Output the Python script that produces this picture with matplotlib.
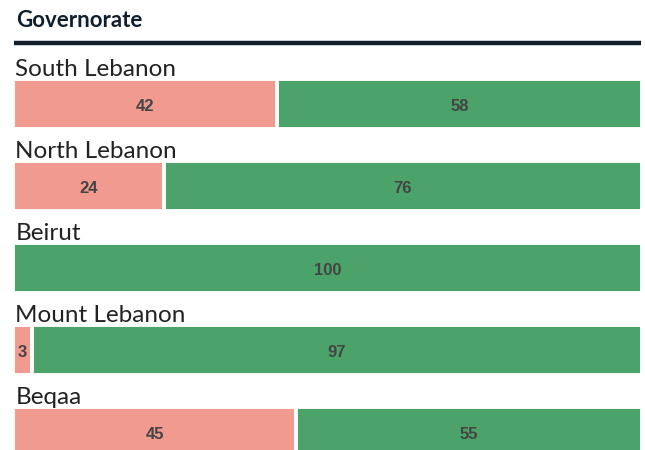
import matplotlib.pyplot as plt

# data
regions = ["South Lebanon", "North Lebanon", "Beirut", "Mount Lebanon", "Beqaa"]
no_vals = [42, 24, 0, 3, 45]
yes_vals = [58, 76, 100, 97, 55]

pink = "#f09a90"
green = "#4ba369"
navy = "#0f1f2e"

lw = 2.8  # white gap between segments
pad = lw * 100 / 72 / 2  # px lost on outer edges

fig = plt.figure(figsize=(6.45, 4.5), dpi=100)
ax = fig.add_axes([(15 - pad) / 645, 0, (625 + 2 * pad) / 645, 1])
ax.set_xlim(0, 100)
ax.set_ylim(4.22, -1.268)
ax.axis("off")

ys = list(range(len(regions)))
bh = 0.61

ax.barh(ys, no_vals, height=bh, color=pink, edgecolor="white", linewidth=lw)
ax.barh(ys, yes_vals, left=no_vals, height=bh, color=green, edgecolor="white", linewidth=lw)

for y, name, a, b in zip(ys, regions, no_vals, yes_vals):
    ax.text(0.35, y - 0.42, name, fontsize=17.5, family="Lato", color="#222222",
            va="center", ha="left")
    if a > 0:
        ax.text(a / 2, y + 0.03, str(a), fontsize=12, family="Liberation Sans",
                weight="bold", color="#444444", ha="center", va="center")
    if b > 0:
        ax.text(a + b / 2, y + 0.03, str(b), fontsize=12, family="Liberation Sans",
                weight="bold", color="#444444", ha="center", va="center")

# title + rule
ax.text(0.5, -1.02, "Governorate", fontsize=16, family="Lato", weight="bold",
        color=navy, va="center", ha="left")
ax.plot([0.2, 99.8], [-0.745, -0.745], color=navy, linewidth=3.2,
        solid_capstyle="butt", clip_on=False)

fig.savefig("out.png", dpi=100)
